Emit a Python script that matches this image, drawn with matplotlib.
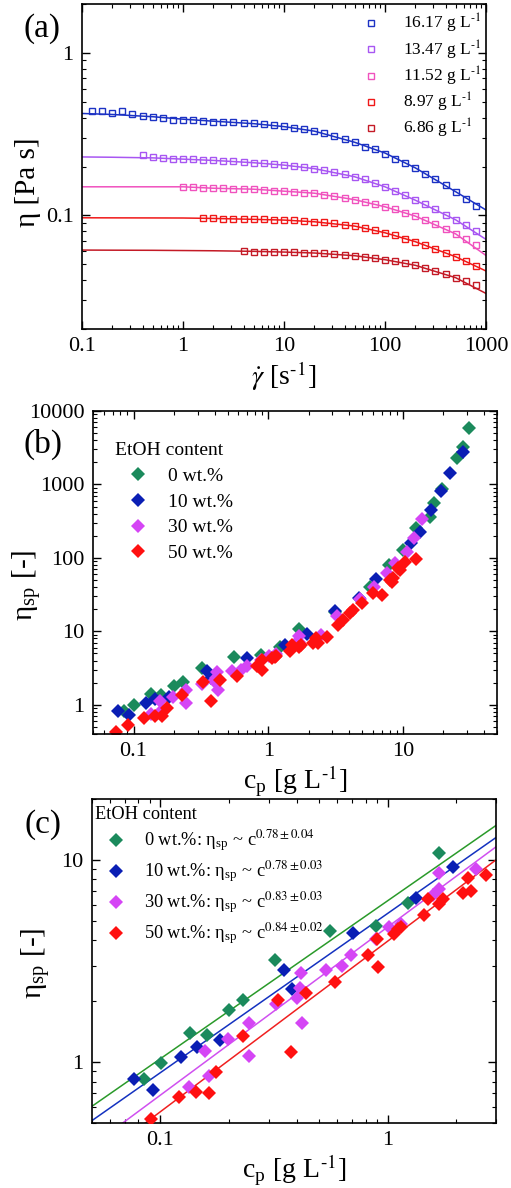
import matplotlib
matplotlib.use('Agg')
import matplotlib.pyplot as plt
from matplotlib.ticker import NullFormatter, LogLocator

plt.rcParams['font.family'] = ['Liberation Serif', 'DejaVu Serif']
plt.rcParams['mathtext.fontset'] = 'stix'

# ---------------- Panel (a) data ----------------
shear_rate = [0.126, 0.158, 0.200, 0.251, 0.316, 0.398, 0.501, 0.631, 0.794, 1.0,
              1.26, 1.58, 2.0, 2.51, 3.16, 3.98, 5.01, 6.31, 7.94, 10.0,
              12.6, 15.8, 20.0, 25.1, 31.6, 39.8, 50.1, 63.1, 79.4, 100,
              126, 158, 200, 251, 316, 398, 501, 631, 794]
eta_1617 = [0.442, 0.442, 0.428, 0.438, 0.418, 0.408, 0.402, 0.398, 0.389, 0.386,
            0.386, 0.380, 0.378, 0.377, 0.375, 0.371, 0.368, 0.364, 0.358, 0.354,
            0.346, 0.341, 0.330, 0.322, 0.310, 0.297, 0.282, 0.264, 0.255, 0.240,
            0.224, 0.209, 0.195, 0.181, 0.167, 0.153, 0.140, 0.127, 0.115]
eta_1347 = [0.234, 0.230, 0.225, 0.223, 0.223, 0.221, 0.220, 0.218, 0.216, 0.215,
            0.213, 0.211, 0.209, 0.207, 0.204, 0.201, 0.198, 0.194, 0.189, 0.185,
            0.180, 0.173, 0.167, 0.159, 0.150, 0.141, 0.133, 0.124, 0.117, 0.109,
            0.101, 0.094, 0.087, 0.080]
eta_1152 = [0.150, 0.149, 0.148, 0.147, 0.147, 0.146, 0.145, 0.145, 0.144, 0.142,
            0.141, 0.140, 0.138, 0.137, 0.134, 0.131, 0.128, 0.125, 0.121, 0.118,
            0.113, 0.109, 0.104, 0.099, 0.094, 0.088, 0.083, 0.077, 0.072, 0.066]
eta_897 = [0.0963, 0.0958, 0.0954, 0.0954, 0.0949, 0.0945, 0.0945, 0.0940, 0.0936, 0.0931,
           0.0923, 0.0914, 0.0906, 0.0893, 0.0876, 0.0860, 0.0832, 0.0809, 0.0782, 0.0753,
           0.0719, 0.0689, 0.0657, 0.0624, 0.0590, 0.0557, 0.0522, 0.0488]
eta_686 = [0.0604, 0.0598, 0.0598, 0.0595, 0.0595, 0.0592, 0.0590, 0.0587, 0.0584, 0.0579,
           0.0573, 0.0565, 0.0557, 0.0547, 0.0534, 0.0522, 0.0507, 0.0493, 0.0475, 0.0455,
           0.0434, 0.0414, 0.0395, 0.0371]

fit_rate = [0.1, 0.2, 0.5, 1, 2, 5, 10, 20, 50, 100, 200, 500, 1000]
fit_1617 = [0.424, 0.418, 0.405, 0.391, 0.380, 0.367, 0.352, 0.330, 0.282, 0.242, 0.196, 0.140, 0.108]
fit_1347 = [0.229, 0.228, 0.226, 0.222, 0.218, 0.211, 0.204, 0.194, 0.173, 0.150, 0.124, 0.094, 0.0712]
fit_1152 = [0.150, 0.150, 0.150, 0.150, 0.147, 0.145, 0.141, 0.137, 0.125, 0.113, 0.099, 0.077, 0.0567]
fit_897 = [0.0967, 0.0966, 0.0965, 0.0964, 0.0958, 0.0946, 0.0936, 0.0914, 0.0860, 0.0782, 0.0689, 0.0557, 0.0455]
fit_686 = [0.0612, 0.0611, 0.0610, 0.0608, 0.0606, 0.0601, 0.0595, 0.0587, 0.0565, 0.0534, 0.0493, 0.0414, 0.0331]

a_labels = ['16.17 g L$^{\\text{-1}}$', '13.47 g L$^{\\text{-1}}$',
            '11.52 g L$^{\\text{-1}}$', '8.97 g L$^{\\text{-1}}$',
            '6.86 g L$^{\\text{-1}}$']
a_colors = ['#1c32c4', '#a856f2', '#f052be', '#f01818', '#c41a26']
a_start = [0, 5, 9, 11, 15]
a_xticks = [0.1, 1, 10, 100, 1000]
a_xticklabels = ['0.1', '1', '10', '100', '1000']
a_yticks = [0.1, 1]
a_yticklabels = ['0.1', '1']

# ---------------- Panels (b)/(c) data ----------------
c_0 = [0.085, 0.101, 0.135, 0.160, 0.200, 0.232, 0.320, 0.560, 0.889, 1.233, 1.69,
       3.13, 5.69, 7.93, 9.96, 12.5, 15.9, 17.1, 19.4, 25.3, 27.8, 31.1]
eta_0 = [0.827, 0.985, 1.39, 1.36, 1.81, 2.03, 3.20, 4.45, 4.71, 6.15, 10.8,
         18.4, 40.4, 79.8, 128, 252, 356, 563, 857, 2270, 3265, 5810]
c_10 = [0.0763, 0.0929, 0.123, 0.145, 0.1825, 0.351, 0.378, 0.701, 1.333, 1.95,
        3.13, 4.74, 6.31, 11.4, 13.4, 16.2, 19.2, 22.4, 27.8]
eta_10 = [0.827, 0.732, 1.059, 1.187, 1.285, 2.87, 2.29, 4.34, 6.46, 9.23,
          19.0, 28.1, 50.9, 161, 227, 448, 820, 1417, 2790]
c_30 = [0.134, 0.157, 0.163, 0.198, 0.245, 0.245, 0.323, 0.398, 0.410, 0.416, 0.421,
        0.535, 0.628, 0.690, 0.889, 1.017, 1.145, 1.58, 1.69, 1.69, 2.46,
        3.26, 4.8, 6.1, 7.57, 8.73, 10.8, 12.1, 13.9]
eta_30 = [0.752, 1.133, 0.853, 1.295, 1.566, 1.071, 1.93, 2.08, 2.33, 2.77, 1.566,
          2.84, 2.99, 3.39, 4.05, 4.68, 4.84, 6.68, 7.16, 8.65, 8.99,
          16.1, 27.2, 40.0, 62.7, 84.0, 121, 185, 338]
c_50 = [0.074, 0.091, 0.1205, 0.1435, 0.164, 0.176, 0.230, 0.328, 0.376, 0.437, 0.589,
        0.822, 0.898, 0.904, 1.07, 1.114, 1.145, 1.45, 1.50, 1.69, 1.746, 2.14, 2.27, 2.33,
        2.72, 3.31, 3.61, 4.05, 4.28, 4.94, 6.03, 6.95, 8.0, 8.26, 8.48, 9.25, 9.5, 10.4, 12.5]
eta_50 = [0.43, 0.526, 0.671, 0.713, 0.705, 0.892, 1.345, 2.04, 1.12, 2.20, 2.49,
          3.37, 4.08, 2.96, 4.29, 4.54, 4.68, 5.32, 6.44, 6.04, 6.44, 6.89, 8.18, 7.02,
          8.4, 12.1, 14.2, 17.5, 19.4, 24.0, 32.8, 31.1, 49.9, 47.3, 52.6, 71.9, 68.2, 88.5, 96.4]

etoh_labels = ['0 wt.%', '10 wt.%', '30 wt.%', '50 wt.%']
etoh_colors = ['#1b8a5c', '#0a1eb4', '#d545f5', '#ff1010']
fit_line_colors = ['#2a9a2a', '#1432c0', '#d050f0', '#f02020']
exponents = ['0.78 \\pm 0.04', '0.78 \\pm 0.03', '0.83 \\pm 0.03', '0.84 \\pm 0.02']
fit_c = [0.05, 3.0]
fit_eta = [[0.605, 14.8], [0.514, 12.9], [0.386, 11.6], [0.317, 10.0]]
c_panel_max = 3.0  # panel (c) shows the dilute/semi-dilute range only

b_yticks = [1, 10, 100, 1000, 10000]
b_yticklabels = ['1', '10', '100', '1000', '10000']
b_xticks = [0.1, 1, 10]
b_xticklabels = ['0.1', '1', '10']
c_yticks = [1, 10]
c_yticklabels = ['1', '10']
c_xticks = [0.1, 1]
c_xticklabels = ['0.1', '1']

W, H = 511, 1188
fig = plt.figure(figsize=(W / 100, H / 100), dpi=100)


def add_ax(l, r, t, b):
    return fig.add_axes([l / W, 1 - b / H, (r - l) / W, (b - t) / H])


def style(ax):
    ax.set_xscale('log')
    ax.set_yscale('log')
    ax.tick_params(which='both', direction='in', top=True, right=True, labelsize=16, pad=6)
    ax.tick_params(which='major', length=6, width=1.0)
    ax.tick_params(which='minor', length=3, width=0.8)
    ax.xaxis.set_minor_locator(LogLocator(base=10, subs=range(2, 10), numticks=20))
    ax.yaxis.set_minor_locator(LogLocator(base=10, subs=range(2, 10), numticks=20))
    ax.xaxis.set_minor_formatter(NullFormatter())
    ax.yaxis.set_minor_formatter(NullFormatter())
    for s in ax.spines.values():
        s.set_linewidth(1.2)


DIAMOND = 7.6

# ---------- (a) ----------
axa = add_ax(82, 486, 4, 329)
style(axa)
eta_sets = [eta_1617, eta_1347, eta_1152, eta_897, eta_686]
fit_sets = [fit_1617, fit_1347, fit_1152, fit_897, fit_686]
for eta, fit, st, col, lab in zip(eta_sets, fit_sets, a_start, a_colors, a_labels):
    axa.plot(fit_rate, fit, '-', color=col, lw=1.1, zorder=2)
    axa.plot(shear_rate[st:], eta, 's', mfc='none', mec=col, mew=1.0, ms=4.8,
             label=lab, zorder=3)
axa.set_xlim(0.1, 1000)
axa.set_ylim(0.02, 2)
axa.set_xticks(a_xticks)
axa.set_xticklabels(a_xticklabels)
axa.set_yticks(a_yticks)
axa.set_yticklabels(a_yticklabels)
axa.set_xlabel('$\\dot{\\gamma}$ [s$^{\\text{-1}}$]', fontsize=20, labelpad=2)
axa.set_ylabel('η [Pa s]', fontsize=21)
axa.yaxis.set_label_coords(-0.102, 0.452)
axa.legend(loc='upper left', frameon=False, fontsize=12.5, handlelength=1.0,
           handletextpad=1.35, labelspacing=0.18, borderaxespad=0.0,
           borderpad=0.0, bbox_to_anchor=((362 - 82) / 404, 1 - (12 - 4) / 325))
fig.text(42 / W, 1 - 29 / H, '(a)', fontsize=24, ha='center', va='center')

# ---------- (b) ----------
axb = add_ax(93, 497, 411, 734)
style(axb)
series_c = [c_0, c_10, c_30, c_50]
series_eta = [eta_0, eta_10, eta_30, eta_50]
for cc, ee, col, lab in zip(series_c, series_eta, etoh_colors, etoh_labels):
    axb.plot(cc, ee, 'D', color=col, ms=DIAMOND, mew=0, label=lab)
axb.set_xlim(0.05, 50)
axb.set_ylim(0.4, 10000)
axb.set_xticks(b_xticks)
axb.set_xticklabels(b_xticklabels)
axb.set_yticks(b_yticks)
axb.set_yticklabels(b_yticklabels)
axb.set_xlabel('c$_{\\mathregular{p}}$ [g L$^{\\text{-1}}$]', fontsize=20, labelpad=2)
axb.set_ylabel('η$_{\\mathregular{sp}}$ [-]', fontsize=21)
axb.yaxis.set_label_coords(-0.122, 0.46)
axb.legend(loc='upper left', frameon=False, fontsize=14, title='EtOH content',
           title_fontsize=14, alignment='left', handlelength=2.35,
           handletextpad=0.4, labelspacing=0.42, borderaxespad=0.0,
           borderpad=0.0, bbox_to_anchor=((115 - 93) / 404, 1 - (442 - 411) / 323))
fig.text(43 / W, 1 - 444 / H, '(b)', fontsize=24, ha='center', va='center')

# ---------- (c) ----------
axc = add_ax(92, 496, 799, 1123)
style(axc)
for i, (cc, ee, col) in enumerate(zip(series_c, series_eta, etoh_colors)):
    lab = '%s: η$_{\\mathregular{sp}}$ ~ c$^{%s}$' % (etoh_labels[i], exponents[i])
    sel_c = [c for c in cc if c <= c_panel_max]
    sel_e = [e for c, e in zip(cc, ee) if c <= c_panel_max]
    axc.plot(fit_c, fit_eta[i], '-', color=fit_line_colors[i], lw=1.1, zorder=2)
    axc.plot(sel_c, sel_e, 'D', color=col, ms=DIAMOND, mew=0, label=lab, zorder=3)
axc.set_xlim(0.05, 3)
axc.set_ylim(0.5, 20)
axc.set_xticks(c_xticks)
axc.set_xticklabels(c_xticklabels)
axc.set_yticks(c_yticks)
axc.set_yticklabels(c_yticklabels)
axc.set_xlabel('c$_{\\mathregular{p}}$ [g L$^{\\text{-1}}$]', fontsize=20, labelpad=2)
axc.set_ylabel('η$_{\\mathregular{sp}}$ [-]', fontsize=21)
axc.yaxis.set_label_coords(-0.097, 0.494)
axc.legend(loc='upper left', frameon=False, fontsize=13.2, title='EtOH content',
           title_fontsize=13.2, alignment='left', handlelength=2.3,
           handletextpad=0.35, labelspacing=0.3, borderaxespad=0.0,
           borderpad=0.0, bbox_to_anchor=((95 - 92) / 404, 1 - (806 - 799) / 324))
fig.text(43 / W, 1 - 825 / H, '(c)', fontsize=24, ha='center', va='center')

fig.savefig('out.png', dpi=100)
